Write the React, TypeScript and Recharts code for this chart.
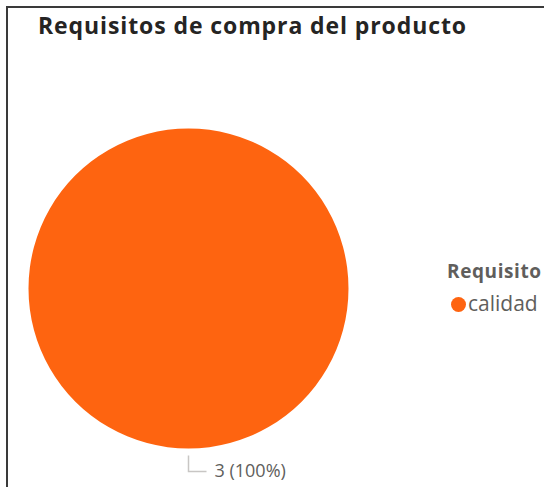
import { PieChart, Pie, Cell, Legend } from "recharts";

const categories = ["calidad"];
const values = [3];
const colors = ["#FE6410"];
const legendTitle = "Requisito";
const chartTitle = "Requisitos de compra del producto";

const data = categories.map((name, i) => ({ name, value: values[i] }));
const total = values.reduce((a, b) => a + b, 0);

const RADIAN = Math.PI / 180;

function renderLabel(props: any) {
  const { cx, cy, midAngle, outerRadius, value } = props;
  const sx = cx + (outerRadius + 7) * Math.cos(-midAngle * RADIAN);
  const sy = cy + (outerRadius + 7) * Math.sin(-midAngle * RADIAN);
  const ex = cx + (outerRadius + 23) * Math.cos(-midAngle * RADIAN);
  const ey = cy + (outerRadius + 23) * Math.sin(-midAngle * RADIAN);
  const pct = Math.round((value / total) * 100);
  return (
    <g>
      <polyline
        points={`${sx},${sy} ${ex},${ey} ${ex + 18},${ey}`}
        fill="none"
        stroke="#C8C6C4"
        strokeWidth={1.5}
      />
      <text x={ex + 26} y={ey + 5} fill="#605E5C" fontSize={18} fontFamily="'Open Sans', sans-serif">
        {`${value} (${pct}%)`}
      </text>
    </g>
  );
}

function LegendContent() {
  return (
    <div style={{ fontFamily: "'Open Sans', sans-serif", color: "#605E5C", lineHeight: 1.3 }}>
      <div style={{ fontWeight: 700, fontSize: 19, letterSpacing: 0.6, marginBottom: 6 }}>{legendTitle}</div>
      {data.map((d, i) => (
        <div key={d.name} style={{ display: "flex", alignItems: "center", fontSize: 21 }}>
          <span
            style={{
              display: "inline-block",
              width: 15,
              height: 15,
              borderRadius: 8,
              background: colors[i],
              marginRight: 2,
              marginLeft: 4,
              marginTop: 2,
            }}
          />
          {d.name}
        </div>
      ))}
    </div>
  );
}

export default function App() {
  return (
    <div style={{ position: "absolute", left: 0, top: 0, width: 544, height: 487, background: "#fff", overflow: "hidden" }}>
      <div
        style={{
          position: "absolute",
          left: 6,
          top: 6,
          width: 600,
          height: 600,
          borderLeft: "2px solid #3a3a3a",
          borderTop: "2px solid #3a3a3a",
        }}
      />
      <div
        style={{
          position: "absolute",
          left: 38,
          top: 9,
          fontFamily: "'Open Sans', sans-serif",
          fontWeight: 700,
          fontSize: 23,
          letterSpacing: 0.9,
          color: "#252423",
          whiteSpace: "nowrap",
        }}
      >
        {chartTitle}
      </div>
      <div style={{ position: "absolute", left: 0, top: 0 }}>
        <PieChart width={544} height={487} margin={{ top: 0, right: 0, bottom: 0, left: 0 }}>
          <Pie
            data={data}
            dataKey="value"
            nameKey="name"
            cx={188.5}
            cy={288.5}
            outerRadius={160}
            startAngle={90}
            endAngle={-270}
            stroke="none"
            label={renderLabel}
            labelLine={false}
            isAnimationActive={false}
          >
            {data.map((d, i) => (
              <Cell key={d.name} fill={colors[i]} />
            ))}
          </Pie>
          <Legend
            content={<LegendContent />}
            wrapperStyle={{ position: "absolute", left: 447, top: 259, width: 140 }}
          />
        </PieChart>
      </div>
    </div>
  );
}
